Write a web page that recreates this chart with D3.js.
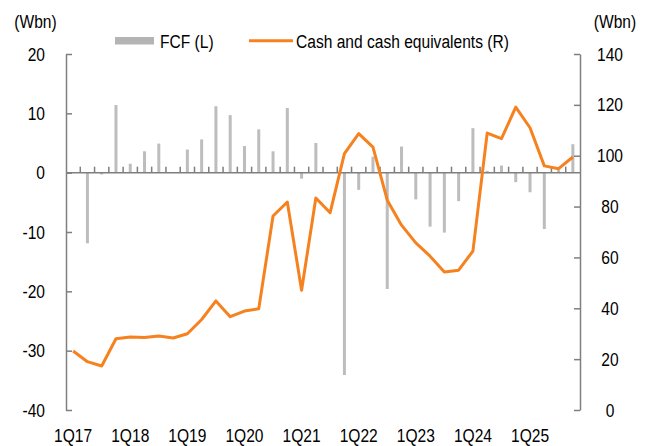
<html>

<head>
    <meta charset="utf-8">
    <title>FCF and Cash</title>
    <script src='https://d3js.org/d3.v7.min.js'></script>
    <style>
        body { margin: 0; background: #fff; }
        svg text { font-family: "Liberation Sans", Arial, sans-serif; font-size: 19px; fill: #000; }
    </style>
</head>

<body>
    <svg id="chart"></svg>
    <script>
        // quarters, FCF (left axis, Wbn) and cash & equivalents (right axis, Wbn)
        var quarters = ["1Q17", "2Q17", "3Q17", "4Q17", "1Q18", "2Q18", "3Q18", "4Q18",
            "1Q19", "2Q19", "3Q19", "4Q19", "1Q20", "2Q20", "3Q20", "4Q20",
            "1Q21", "2Q21", "3Q21", "4Q21", "1Q22", "2Q22", "3Q22", "4Q22",
            "1Q23", "2Q23", "3Q23", "4Q23", "1Q24", "2Q24", "3Q24", "4Q24",
            "1Q25", "2Q25", "3Q25", "4Q25"];
        var fcf = [0, -11.9, -0.3, 11.4, 1.5, 3.6, 4.9, 0,
            3.9, 5.6, 11.2, 9.7, 4.5, 7.3, 3.6, 10.9,
            -1.0, 5.0, 0, -34.1, -2.9, 2.7, -19.6, 4.4,
            -4.5, -9.1, -10.1, -4.8, 7.5, 0.3, 1.2, -1.6,
            -3.3, -9.5, 0.5, 4.8];
        var cash = [23.2, 19.0, 17.3, 28.0, 28.7, 28.5, 29.1, 28.3,
            30.0, 35.6, 42.9, 36.7, 38.9, 39.8, 76.3, 81.8,
            47.1, 83.4, 77.6, 100.8, 108.7, 103.4, 82.5, 72.7,
            65.7, 60.5, 54.3, 55.0, 62.5, 108.9, 106.7, 119.1,
            111.0, 96.0, 94.9, 99.5];
        var xLabels = ["1Q17", "1Q18", "1Q19", "1Q20", "1Q21", "1Q22", "1Q23", "1Q24", "1Q25"];
        var leftTicks = [-40, -30, -20, -10, 0, 10, 20];
        var rightTicks = [0, 20, 40, 60, 80, 100, 120, 140];

        var width = 648, height = 446;
        var plotLeft = 66, plotRight = 580, plotTop = 54, plotBottom = 410;
        var axisColor = "#7f7f7f";
        var squeeze = 0.82; // the source font is a narrow face

        var x = d3.scaleBand().domain(quarters).range([plotLeft, plotRight]).padding(0);
        var yL = d3.scaleLinear().domain([-40, 20]).range([plotBottom, plotTop]);
        var yR = d3.scaleLinear().domain([0, 140]).range([plotBottom, plotTop]);
        var cx = function (q) { return x(q) + x.bandwidth() / 2; };
        var plain = function (d) { return String(d); }; // hyphen minus like the source

        // move x/y into a transform so the glyphs can be squeezed horizontally
        function narrow(sel) {
            sel.each(function () {
                var t = d3.select(this);
                var tx = +t.attr("x") || 0, ty = +t.attr("y") || 0;
                t.attr("x", 0).attr("y", 0)
                    .attr("transform", "translate(" + tx + "," + ty + ") scale(" + squeeze + ",1)");
            });
        }

        var svg = d3.select("#chart").attr("width", width).attr("height", height);

        // bars
        svg.append("g")
            .selectAll("rect")
            .data(quarters)
            .enter()
            .append("rect")
            .attr("x", function (d) { return cx(d) - 1.5; })
            .attr("width", 3)
            .attr("y", function (d, i) { return yL(Math.max(0, fcf[i])); })
            .attr("height", function (d, i) { return Math.abs(yL(fcf[i]) - yL(0)); })
            .attr("fill", "#bdbdbd");

        // zero line with category ticks pointing up
        var zero = svg.append("g").attr("stroke", axisColor).attr("stroke-width", 1.5);
        zero.append("line")
            .attr("x1", plotLeft).attr("x2", plotRight)
            .attr("y1", yL(0)).attr("y2", yL(0));
        zero.selectAll("line.tk")
            .data(quarters.slice(1))
            .enter()
            .append("line")
            .attr("class", "tk")
            .attr("x1", function (d) { return x(d); })
            .attr("x2", function (d) { return x(d); })
            .attr("y1", yL(0))
            .attr("y2", yL(0) - 6);

        // left axis
        var gl = svg.append("g")
            .attr("transform", "translate(" + plotLeft + ",0)")
            .call(d3.axisLeft(yL).tickValues(leftTicks).tickFormat(plain)
                .tickSizeInner(-6).tickSizeOuter(0).tickPadding(21));
        // right axis
        var gr = svg.append("g")
            .attr("transform", "translate(" + plotRight + ",0)")
            .call(d3.axisRight(yR).tickValues(rightTicks).tickFormat(plain)
                .tickSizeInner(-6).tickSizeOuter(0));
        gr.selectAll("text").attr("x", 30).attr("text-anchor", "middle");
        [gl, gr].forEach(function (g) {
            g.attr("font-family", null).attr("font-size", null);
            g.selectAll("path, line").attr("stroke", axisColor).attr("stroke-width", 1.5);
            narrow(g.selectAll("text"));
        });

        // x labels
        svg.append("g")
            .selectAll("text")
            .data(xLabels)
            .enter()
            .append("text")
            .attr("x", function (d) { return cx(d); })
            .attr("y", 441.5)
            .attr("text-anchor", "middle")
            .text(function (d) { return d; })
            .call(narrow);

        // unit labels
        svg.append("text").attr("x", 35.5).attr("y", 28).attr("text-anchor", "middle").text("(Wbn)").call(narrow);
        svg.append("text").attr("x", 615).attr("y", 28).attr("text-anchor", "middle").text("(Wbn)").call(narrow);

        // cash line
        var line = d3.line()
            .x(function (d) { return cx(d); })
            .y(function (d, i) { return yR(cash[i]); });
        svg.append("path")
            .datum(quarters)
            .attr("d", line)
            .attr("fill", "none")
            .attr("stroke", "#f5821f")
            .attr("stroke-width", 3)
            .attr("stroke-linejoin", "round");

        // legend
        var lg = svg.append("g");
        lg.append("rect").attr("x", 115).attr("y", 37).attr("width", 39).attr("height", 7.5).attr("fill", "#b4b4b4");
        lg.append("text").attr("x", 160).attr("y", 47.5).text("FCF (L)").call(narrow);
        lg.append("line").attr("x1", 249).attr("x2", 293).attr("y1", 40.7).attr("y2", 40.7)
            .attr("stroke", "#f5821f").attr("stroke-width", 3);
        lg.append("text").attr("x", 296).attr("y", 47.5).text("Cash and cash equivalents (R)").call(narrow);
    </script>
</body>

</html>
